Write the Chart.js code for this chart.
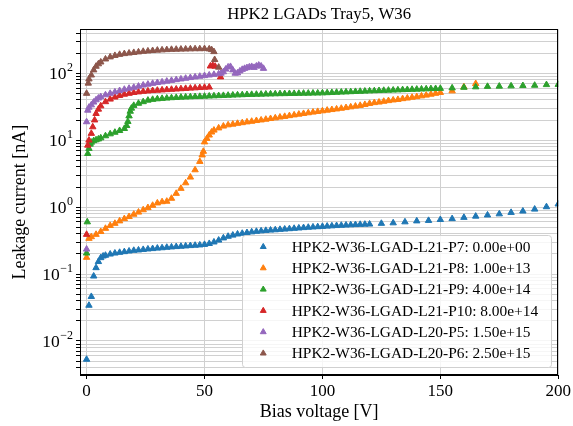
<!DOCTYPE html>
<html>
<head>
<meta charset="utf-8">
<script src="https://cdn.jsdelivr.net/npm/chart.js@4.4.1/dist/chart.umd.min.js"></script>
<style>
  html, body { margin: 0; padding: 0; background: #fff; }
  #wrap { width: 573px; height: 426px; }
</style>
</head>
<body>
<div id="wrap"><canvas id="ivChart"></canvas></div>
<script>
const serif = "'Liberation Serif', 'DejaVu Serif', serif";

// sensors on the tray and their fluences
const sensors = [
  'HPK2-W36-LGAD-L21-P7',
  'HPK2-W36-LGAD-L21-P8',
  'HPK2-W36-LGAD-L21-P9',
  'HPK2-W36-LGAD-L21-P10',
  'HPK2-W36-LGAD-L20-P5',
  'HPK2-W36-LGAD-L20-P6',
];
const fluences = ['0.00e+00', '1.00e+13', '4.00e+14', '8.00e+14', '1.50e+15', '2.50e+15'];
const colors = ['#1f77b4', '#ff7f0e', '#2ca02c', '#d62728', '#9467bd', '#8c564b'];
const chartTitle = 'HPK2 LGADs Tray5, W36';

// IV scans, [bias V, leakage nA]
const ivP7 = [
  [0,0.0053],[1,0.034],[2,0.046],[3,0.093],[4,0.124],[5,0.153],[6,0.175],[7,0.185],[8,0.19],
  [10,0.198],[12,0.205],[14,0.21],[16,0.215],[18,0.22],[20,0.225],[22,0.228],[24,0.232],
  [26,0.236],[28,0.239],[30,0.243],[32,0.246],[34,0.25],[36,0.253],[38,0.256],[40,0.259],
  [42,0.262],[44,0.265],[46,0.268],[48,0.271],[50,0.276],[52,0.285],[54,0.3],[56,0.32],
  [58,0.345],[60,0.365],[62,0.38],[64,0.395],[66,0.405],[68,0.415],[70,0.425],[72,0.433],
  [74,0.44],[76,0.447],[78,0.452],[80,0.457],[82,0.463],[84,0.468],[86,0.474],[88,0.48],
  [90,0.486],[92,0.492],[94,0.498],[96,0.503],[98,0.508],[100,0.513],[102,0.518],[104,0.523],
  [106,0.528],[108,0.533],[110,0.538],[112,0.542],[114,0.546],[116,0.55],[118,0.553],[120,0.556],
  [125,0.57],[130,0.58],[135,0.6],[140,0.62],[145,0.63],[150,0.65],[155,0.67],[160,0.7],
  [165,0.73],[170,0.76],[175,0.79],[180,0.83],[185,0.87],[190,0.93],[195,1.01],[200,1.11],
];
const ivP8 = [
  [0,0.177],[1,0.34],[2,0.36],[4,0.39],[6,0.43],[8,0.48],[10,0.53],[12,0.57],[14,0.62],
  [16,0.67],[18,0.72],[20,0.78],[22,0.84],[24,0.91],[26,0.98],[28,1.06],[30,1.15],[32,1.2],
  [34,1.22],[36,1.35],[38,1.6],[40,1.9],[42,2.3],[44,2.8],[46,3.6],[48,4.8],[49,6.0],
  [49.5,6.8],[50,9.4],[51,10.6],[52,11.9],[53,13.2],[54,14.1],[56,15.2],[58,16.2],[60,16.9],
  [62,17.3],[64,17.8],[66,18.2],[68,18.7],[70,19.1],[72,19.6],[74,20.0],[76,20.5],[78,21.0],
  [80,21.5],[82,22.1],[84,22.6],[86,23.2],[88,23.8],[90,24.4],[92,25.0],[94,25.6],[96,26.2],
  [98,26.8],[100,27.4],[102,28.0],[104,28.6],[106,29.2],[108,29.9],[110,30.6],[112,31.4],
  [114,32.2],[116,33.0],[118,34.1],[120,35.3],[122,36.3],[124,37.0],[126,38.0],[128,38.9],
  [130,39.8],[132,40.5],[134,41.6],[136,42.5],[138,43.6],[140,44.6],[142,45.8],[144,47.0],
  [146,48.5],[148,50.0],[150,51.5],[155,54.4],[160,62.5],[165,70],
];
const ivP9 = [
  [0,0.205],[0.3,0.6],[0.5,6.3],[1,7.5],[1.5,8.7],[2,9.3],[3,9.8],[4,10.1],[5,10.4],[6,10.8],
  [8,11.6],[10,12.4],[12,13.1],[14,13.9],[16,14.9],[17,16.5],[17.5,19],[18,23],[18.5,27],
  [19,30],[20,33],[22,35.5],[24,37.5],[26,39.5],[28,40.6],[30,41.4],[32,42],[34,42.5],
  [36,43],[38,43.4],[40,43.8],[42,44.1],[44,44.4],[46,44.7],[48,45],[50,45.3],[52,45.6],
  [54,45.9],[56,46.2],[58,46.5],[60,46.8],[62,47.1],[64,47.4],[66,47.7],[68,48],[70,48.2],
  [72,48.4],[74,48.6],[76,48.8],[78,49],[80,49.2],[82,49.4],[84,49.5],[86,49.7],[88,49.8],
  [90,50],[92,50.2],[94,50.3],[96,50.5],[98,50.6],[100,50.8],[102,51.1],[104,51.5],[106,51.8],
  [108,52.2],[110,52.5],[112,52.9],[114,53.3],[116,53.6],[118,54],[120,54.4],[122,54.7],
  [124,55],[126,55.4],[128,55.7],[130,56],[132,56.3],[134,56.7],[136,57],[138,57.3],
  [140,57.7],[142,58],[144,58.4],[146,58.7],[148,59],[150,59.3],[155,60.3],[160,61.5],
  [165,62.5],[170,63.5],[175,64],[180,64.6],[185,65.3],[190,66],[195,67.5],[200,68],
];
const ivP10 = [
  [0,0.39],[0.5,8.4],[1,10],[2,12.6],[2.6,15.8],[3.4,20],[4,25],[5,29],[6,32.5],[8,37.5],
  [10,41],[12,44],[14,46.5],[16,48.5],[18,50],[20,51.5],[22,52.5],[24,53.5],[26,54.3],
  [28,55],[30,55.6],[32,56.2],[34,56.8],[36,57.4],[38,58],[40,58.6],[42,59.2],[44,59.8],
  [46,60.4],[48,61],[50,61.6],[52,62],[52.5,128],[53.5,131],[54.5,127],[56.8,88],
];
const ivP5 = [
  [0,0.235],[0,18.8],[0.5,28],[1,31],[2,33.6],[3,37],[4,40],[5,42.5],[6,44.5],[8,47.5],
  [10,50],[12,52.5],[14,55],[16,57.5],[18,59.5],[20,61.5],[22,64],[24,66.5],[26,68.5],
  [28,70.5],[30,72.5],[32,74],[34,76],[36,78],[38,80],[40,82],[42,84],[44,86],[46,88],
  [48,90],[50,92],[52,94],[54,96],[56,98],[57,100],[58,105],[59,115],[60,124],[61,126],
  [62,112],[63,100],[64,101],[65,108],[66,114],[67,118],[68,121],[69,124],[70,126],
  [71,122],[72,128],[73,132],[74,128],[75,118],
];
const ivP6 = [
  [0,50],[0.7,71],[1,82],[2,94],[3,112],[4,127],[5,138],[6,147],[8,163],[10,175],[12,184],
  [14,191],[16,196],[18,200],[20,204],[22,208],[24,212],[26,215],[28,218],[30,221],[32,223],
  [34,225],[36,227],[38,228],[40,229],[42,230],[44,231],[46,232],[48,232],[50,233],[52,231],
  [53,225],[54,210],[54.3,160],[56,123],
];
const scans = [ivP7, ivP8, ivP9, ivP10, ivP5, ivP6];

const xTicks = [0, 50, 100, 150, 200];
const yDecades = [-2, -1, 0, 1, 2];
const xRange = [-2.8, 200];
const yRange = [0.0031, 455];

// log grid: every 1..9 x 10^n inside the range
const yGrid = [];
for (let e = -3; e <= 2; e++) {
  for (let m = 1; m <= 9; m++) {
    const v = m * Math.pow(10, e);
    if (v > yRange[0] && v < yRange[1]) yGrid.push(v);
  }
}

const datasets = scans.map((scan, i) => ({
  label: sensors[i] + ': ' + fluences[i],
  data: scan.map(p => ({ x: p[0], y: p[1] })),
  backgroundColor: colors[i],
  borderColor: colors[i],
  pointStyle: 'triangle',
  pointRadius: 3.7,
  pointBorderWidth: 1,
  showLine: false,
  order: scans.length - i,
}));

// axes box on all four sides
const frame = {
  id: 'frame',
  afterDatasetsDraw(chart) {
    const { ctx, chartArea: a } = chart;
    ctx.save();
    ctx.strokeStyle = '#000';
    ctx.lineWidth = 1;
    ctx.strokeRect(Math.round(a.left) + 0.5, Math.round(a.top) + 0.5,
      Math.round(a.right - a.left) - 1, Math.round(a.bottom - a.top) - 1);
    ctx.restore();
  }
};

// legend box in the lower right corner of the plot
const legendBox = {
  id: 'legendBox',
  afterDatasetsDraw(chart) {
    const { ctx, chartArea: a } = chart;
    ctx.save();
    ctx.font = '15.4px ' + serif;
    const labels = datasets.map(d => d.label);
    const textW = Math.max(...labels.map(t => ctx.measureText(t).width));
    const rowH = 21.3;
    const w = Math.max(308.5, 50 + textW + 10);
    const h = rowH * (labels.length - 1) + 25.5;
    const x = a.right - 8 - w;
    const y = a.bottom - 8.5 - h;
    ctx.beginPath();
    ctx.roundRect(Math.round(x) + 0.5, Math.round(y) + 0.5, Math.round(w), Math.round(h), 3);
    ctx.fillStyle = 'rgba(255,255,255,0.8)';
    ctx.fill();
    ctx.strokeStyle = '#d0d0d0';
    ctx.lineWidth = 1;
    ctx.stroke();
    labels.forEach((t, i) => {
      const cy = y + 12.3 + i * rowH;
      ctx.fillStyle = colors[i];
      ctx.strokeStyle = colors[i];
      Chart.helpers.drawPoint(ctx, { pointStyle: 'triangle', radius: 3.4, borderWidth: 1 }, x + 21.5, cy);
      ctx.fillStyle = '#000';
      ctx.textAlign = 'left';
      ctx.textBaseline = 'middle';
      ctx.fillText(t, x + 50, cy + 1);
    });
    ctx.restore();
  }
};

// title centred over the plot, and 10^n labels on the log axis
const labelsAndTitle = {
  id: 'labelsAndTitle',
  afterDraw(chart) {
    const { ctx, chartArea: a } = chart;
    const ys = chart.scales.y;
    const right = ys.right - 7;
    ctx.save();
    ctx.fillStyle = '#000';
    ctx.textBaseline = 'middle';
    ctx.font = '16.8px ' + serif;
    ctx.textAlign = 'center';
    ctx.fillText(chartTitle, (a.left + a.right) / 2, 14.5);
    ctx.textAlign = 'left';
    yDecades.forEach(e => {
      const py = ys.getPixelForValue(Math.pow(10, e));
      const exp = e < 0 ? '\u2212' + (-e) : String(e);
      ctx.font = '12px ' + serif;
      const ew = ctx.measureText(exp).width;
      ctx.fillText(exp, right - ew, py - 5.5);
      ctx.font = '17.5px ' + serif;
      const bw = ctx.measureText('10').width;
      ctx.fillText('10', right - ew - bw - 0.5, py + 1);
    });
    ctx.restore();
  }
};

new Chart(document.getElementById('ivChart'), {
  type: 'scatter',
  data: { datasets },
  plugins: [frame, legendBox, labelsAndTitle],
  options: {
    responsive: true,
    maintainAspectRatio: false,
    animation: false,
    events: [],
    layout: { padding: { left: 0, right: 13, top: 29.3, bottom: 0 } },
    plugins: {
      legend: { display: false },
      tooltip: { enabled: false },
      title: { display: false },
    },
    scales: {
      x: {
        type: 'linear',
        min: xRange[0],
        max: xRange[1],
        afterBuildTicks: (s) => { s.ticks = xTicks.map(v => ({ value: v })); },
        afterFit: (s) => { s.height = 51; },
        ticks: { color: '#000', font: { family: serif, size: 17 }, padding: 2, autoSkip: false, maxRotation: 0 },
        grid: { color: '#d0d0d0', lineWidth: 1, tickColor: '#000', tickLength: 4 },
        border: { color: '#000', width: 1 },
        title: {
          display: true,
          text: 'Bias voltage [V]',
          color: '#000',
          font: { family: serif, size: 18 },
          padding: { top: 0, bottom: 3 },
        },
      },
      y: {
        type: 'logarithmic',
        min: yRange[0],
        max: yRange[1],
        afterBuildTicks: (s) => { s.ticks = yGrid.map(v => ({ value: v })); },
        afterFit: (s) => { s.width = 80; },
        ticks: { display: false, autoSkip: false },
        grid: { color: '#d0d0d0', lineWidth: 1, tickColor: '#000', tickLength: 4 },
        border: { color: '#000', width: 1 },
        title: {
          display: true,
          text: 'Leakage current [nA]',
          color: '#000',
          font: { family: serif, size: 18 },
          padding: { top: 9.5, bottom: 0 },
        },
      },
    },
  },
});
</script>
</body>
</html>
